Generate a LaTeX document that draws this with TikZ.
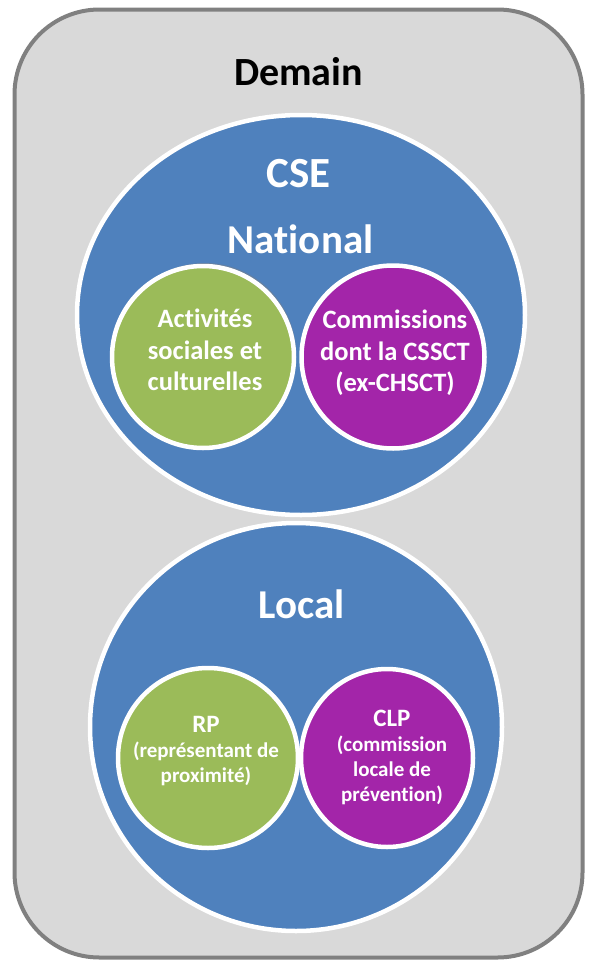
\documentclass[tikz,border=0pt]{standalone}
\usepackage{fontspec}
\setmainfont{Carlito}[RawFeature={-liga;-clig;-calt;-dlig}]
\usepackage{tikz}
\usetikzlibrary{shapes.geometric,shadows,positioning}
\definecolor{fondgris}{HTML}{D9D9D9}
\definecolor{bordgris}{HTML}{808080}
\definecolor{bleucse}{HTML}{4F81BD}
\definecolor{vertasc}{HTML}{9BBB59}
\definecolor{violetcom}{HTML}{A325A9}
\tikzstyle{bulle}=[ellipse, draw=white, line width=4.5, inner sep=0pt]
\tikzstyle{titre}=[text=white, font=\bfseries\fontsize{41}{48}\selectfont, anchor=base]
\tikzstyle{texte}=[text=white, font=\bfseries\fontsize{26.5}{31.5}\selectfont, align=center]
\tikzstyle{petit}=[text=white, font=\bfseries\fontsize{21}{25}\selectfont, align=center]

\begin{document}
\begin{tikzpicture}[x=1pt, y=-1pt]
\useasboundingbox (0,0) rectangle (591,961);

% fond
\draw[line width=4, draw=bordgris, fill=fondgris, rounded corners=85] (14.5,9.5) rectangle (582.5,957.5);
\node[anchor=base, font=\bfseries\fontsize{40}{48}\selectfont] (demain) at (298.5,85) {Demain};

% national
\node[bulle, fill=bleucse, minimum width=448, minimum height=400] (national) at (301,315) {};
\node[titre, font=\bfseries\fontsize{43}{50}\selectfont] (cse) at (298.5,187) {CSE};
\node[titre] (nat) at (300.5,253) {Nat\kern0pt ional};
\node[bulle, circle, fill=vertasc, minimum size=182, drop shadow={opacity=0.45, shadow xshift=2, shadow yshift=-3}] (asc) at (203,357) {};
\node[bulle, circle, fill=violetcom, minimum size=183] (commissions) at (393,357) {};
\node[texte] (asctxt) at (205,350) {Act\kern0pt ivités\\sociales et\\culturelles};
\node[texte] (comtxt) at (395,353) {Commissions\\dont la CSSCT\\(ex-CHSCT)};

% local
\node[bulle, fill=bleucse, minimum width=412, minimum height=408] (local) at (296,727) {};
\node[titre] (loc) at (301.5,618) {Local};
\node[bulle, circle, fill=vertasc, minimum size=180] (rp) at (208,758) {};
\node[bulle, fill=violetcom, minimum width=172, minimum height=178] (clp) at (387,758) {};
\node[petit] (rptxt) at (206,751) {{\fontsize{25}{25}\selectfont RP}\\(représentant de\\proximité)};
\node[petit] (clptxt) at (392,757) {{\fontsize{25}{25}\selectfont CLP}\\(commission\\locale de\\prévention)};

\end{tikzpicture}
\end{document}
